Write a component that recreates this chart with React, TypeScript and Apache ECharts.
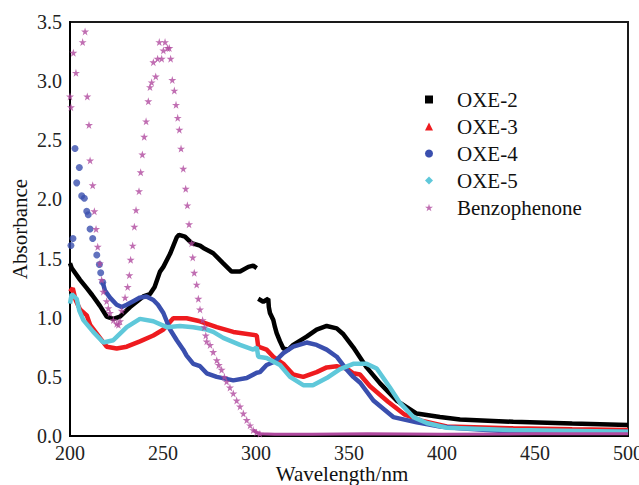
import React, { useEffect, useRef } from "react";
import * as echarts from "echarts";

// ---- Data (wavelength nm / absorbance) ----
const oxe2Wl = [200, 200.9, 205.4, 209.0, 212, 216.1, 219.7, 223.3, 226.9, 232.3, 239.4, 243.0, 245.5, 248.4, 250.2, 253.8, 257.4, 258.6, 261.8, 265.4, 269.9, 271.7, 275.3, 277.0, 282.4, 286.9, 291.4, 295.9, 298.5, 300.4, 300.8, 301.2, 303.9, 306.6, 306.9, 307.5, 309.3, 310.2, 311.1, 312.9, 314.7, 317.4, 320.0, 327.2, 332.6, 338.0, 343.4, 347, 352.3, 359.5, 366.7, 375.6, 386.4, 398.9, 409.7, 438.3, 470, 500];
const oxe2Abs = [1.46, 1.42, 1.32, 1.25, 1.19, 1.10, 1.01, 0.99, 1.01, 1.09, 1.18, 1.20, 1.26, 1.39, 1.43, 1.54, 1.68, 1.70, 1.685, 1.63, 1.61, 1.59, 1.56, 1.545, 1.46, 1.39, 1.39, 1.43, 1.44, 1.42, null, 1.16, 1.135, 1.16, 1.09, 1.04, 0.98, 0.92, 0.87, 0.80, 0.74, 0.73, 0.77, 0.84, 0.90, 0.93, 0.91, 0.86, 0.75, 0.58, 0.445, 0.30, 0.19, 0.16, 0.14, 0.12, 0.105, 0.093];

const oxe3Wl = [200, 201.5, 203, 205.4, 209.0, 210.8, 216.1, 219.7, 225.1, 230.5, 237.6, 244.8, 250.2, 255.5, 262.7, 269.9, 278.9, 287.8, 300.4, 301.2, 305.7, 309.3, 314.7, 320.0, 325.4, 332.6, 338.0, 343.4, 348.8, 352.3, 355.9, 361.3, 371, 380, 389, 402.5, 438.3, 470, 500];
const oxe3Abs = [1.22, 1.25, 1.15, 1.07, 1.02, 0.94, 0.83, 0.755, 0.74, 0.755, 0.80, 0.85, 0.90, 0.995, 0.995, 0.97, 0.92, 0.88, 0.85, 0.755, 0.73, 0.67, 0.61, 0.52, 0.50, 0.54, 0.58, 0.59, 0.57, 0.53, 0.52, 0.42, 0.29, 0.18, 0.13, 0.08, 0.065, 0.057, 0.05];

// OXE-4: sparse dots where the curve is steep, then continuous band
const oxe4DotWl = [200.5, 201.6, 202.7, 203.6, 205.0, 206.3, 207.7, 209.0, 209.8, 210.8, 212.2, 214.4, 215.8, 216.5, 217.6];
const oxe4DotAbs = [1.61, 1.67, 2.43, 2.14, 2.27, 2.03, 2.01, 1.90, 1.87, 1.75, 1.67, 1.53, 1.45, 1.38, 1.30];
const oxe4Wl = [217.6, 218.8, 221.5, 225.1, 227.8, 230.5, 234.0, 237.6, 241.1, 244.8, 247.3, 250.2, 252.0, 253.8, 257.4, 260.9, 262.7, 266.3, 269.9, 273.5, 278.9, 287.8, 295.0, 300.4, 302.1, 305.7, 310.2, 314.7, 320.0, 327.2, 332.6, 338.0, 343.4, 348.8, 352.3, 356, 363.1, 373.8, 386.4, 398.9, 409.7, 438.3, 500];
const oxe4Abs = [1.30, 1.23, 1.17, 1.11, 1.09, 1.11, 1.14, 1.17, 1.18, 1.15, 1.11, 1.04, 0.97, 0.90, 0.81, 0.73, 0.68, 0.61, 0.59, 0.53, 0.50, 0.47, 0.49, 0.535, 0.54, 0.60, 0.63, 0.70, 0.755, 0.79, 0.77, 0.73, 0.67, 0.56, 0.50, 0.45, 0.30, 0.16, 0.115, 0.08, 0.065, 0.036, 0.036];

const oxe5Wl = [200, 200.9, 203.6, 205, 207.2, 212.5, 217.9, 223.3, 230.5, 237.6, 244.8, 252.0, 259.1, 266.3, 273.5, 277.0, 282.4, 291.4, 298.5, 300.4, 301.2, 305.7, 312.9, 318.3, 325.4, 330.6, 338.0, 345.2, 352.3, 359.5, 364.9, 372.0, 377.4, 384.6, 391.8, 402.5, 438.3, 500];
const oxe5Abs = [1.12, 1.20, 1.16, 1.06, 0.98, 0.88, 0.79, 0.81, 0.92, 0.99, 0.97, 0.92, 0.93, 0.92, 0.90, 0.88, 0.83, 0.77, 0.73, 0.75, 0.67, 0.66, 0.60, 0.50, 0.43, 0.43, 0.49, 0.565, 0.61, 0.61, 0.57, 0.41, 0.28, 0.16, 0.11, 0.07, 0.05, 0.036];

const benzoWl = [200.0, 200.5, 201.8, 203.2, 206.8, 208.1, 209.3, 210.2, 210.8, 212.2, 213.1, 214.0, 214.9, 216.1, 217.0, 217.9, 219.7, 220.6, 221.5, 223.3, 225.1, 226.0, 226.9, 227.8, 229.6, 231.0, 231.9, 232.6, 233.7, 234.6, 235.5, 237.1, 238.0, 238.9, 239.9, 240.9, 242.1, 243.0, 243.9, 244.8, 246.1, 247.1, 248.0, 249.3, 250.2, 251.1, 252.5, 253.4, 254.1, 255.0, 256.1, 257.0, 257.9, 258.8, 259.7, 260.9, 262.2, 263.1, 264.0, 265.4, 266.0, 266.8, 268.1, 269.0, 269.9, 271.3, 272.2, 273.0, 273.5, 275.3, 277.0, 278.9, 280.0, 281.5, 283.0, 284.2, 286.0, 287.8, 289.6, 291.4, 293.2, 295.0, 296.8, 298.5, 300.3, 302.1];
const benzoAbs = [2.87, 2.78, 3.24, 3.07, 3.33, 3.42, 2.87, 2.63, 2.33, 2.12, 1.90, 1.75, 1.60, 1.46, 1.32, 1.22, 1.14, 1.08, 1.04, 0.98, 0.95, 0.94, 0.97, 1.06, 1.17, 1.26, 1.36, 1.49, 1.61, 1.77, 1.91, 2.07, 2.23, 2.38, 2.53, 2.66, 2.83, 2.95, 2.99, 3.16, 3.04, 3.19, 3.33, 3.19, 3.26, 3.33, 3.28, 3.28, 3.19, 3.01, 2.92, 2.80, 2.69, 2.59, 2.43, 2.26, 2.09, 1.95, 1.79, 1.63, 1.51, 1.38, 1.28, 1.16, 1.07, 0.98, 0.92, 0.85, 0.80, 0.77, 0.71, 0.64, 0.60, 0.56, 0.50, 0.46, 0.41, 0.36, 0.30, 0.25, 0.19, 0.135, 0.09, 0.05, 0.03, 0.02];
const benzoTailWl = [298.5, 300.3, 302.1, 310, 330, 360, 400, 450, 500];
const benzoTailAbs = [0.05, 0.03, 0.02, 0.015, 0.015, 0.018, 0.015, 0.018, 0.02];

const seriesNames = ["OXE-2", "OXE-3", "OXE-4", "OXE-5", "Benzophenone"];
const xTicks = { min: 200, max: 500, interval: 50 };
const yTicks = { min: 0, max: 3.5, interval: 0.5 };

const COLORS = {
  oxe2: "#000000",
  oxe3: "#ee1b1f",
  oxe4: "#3a4fae",
  oxe5: "#5fc8da",
  benzo: "#b04a9f",
};

const STAR = "path://M50,0 L61,35 L98,35 L68,57 L79,91 L50,70 L21,91 L32,57 L2,35 L39,35 Z";
const FONT = "'Liberation Serif', 'Times New Roman', serif";

const zip = (xs: number[], ys: (number | null)[]) =>
  xs.map((x, i) => (ys[i] === null ? [x, "-"] : [x, ys[i]]));

export default function App() {
  const ref = useRef<HTMLDivElement>(null);

  useEffect(() => {
    if (!ref.current) return;
    const chart = echarts.init(ref.current, undefined, { renderer: "svg" });
    const lineBase = (name: string, color: string, data: any[]) => ({
      name,
      type: "line",
      data,
      symbol: "none",
      showSymbol: false,
      connectNulls: false,
      lineStyle: { color, width: 4.5 },
      itemStyle: { color },
      z: 2,
    });
    chart.setOption({
      animation: false,
      backgroundColor: "#ffffff",
      grid: {
        left: 70,
        right: 11,
        top: 22,
        bottom: 49,
        show: true,
        borderColor: "#1a1a1a",
        borderWidth: 2,
        containLabel: false,
        outerBoundsMode: "none",
      },
      legend: {
        orient: "vertical",
        left: 420,
        top: 84,
        itemWidth: 8,
        itemHeight: 8,
        itemGap: 6,
        selectedMode: false,
        textStyle: {
          fontFamily: FONT,
          fontSize: 21,
          lineHeight: 21,
          color: "#111",
          padding: [0, 0, 0, 19],
        },
        data: [
          { name: seriesNames[0], icon: "rect", itemStyle: { color: COLORS.oxe2 } },
          { name: seriesNames[1], icon: "triangle", itemStyle: { color: COLORS.oxe3 } },
          { name: seriesNames[2], icon: "circle", itemStyle: { color: COLORS.oxe4 } },
          { name: seriesNames[3], icon: "diamond", itemStyle: { color: COLORS.oxe5 } },
          { name: seriesNames[4], icon: STAR, itemStyle: { color: COLORS.benzo } },
        ],
      },
      xAxis: {
        type: "value",
        min: xTicks.min,
        max: xTicks.max,
        interval: xTicks.interval,
        name: "Wavelength/nm",
        nameLocation: "middle",
        nameGap: 27,
        nameMoveOverlap: false,
        nameTextStyle: {
          fontFamily: FONT,
          fontSize: 21,
          lineHeight: 21,
          color: "#111",
          padding: [0, 14, 0, 0],
        },
        axisLine: { show: true, lineStyle: { color: "#000", width: 2 } },
        axisTick: { show: false },
        splitLine: { show: false },
        axisLabel: { fontFamily: FONT, fontSize: 20, color: "#222", margin: 7 },
      },
      yAxis: {
        type: "value",
        min: yTicks.min,
        max: yTicks.max,
        interval: yTicks.interval,
        name: "Absorbance",
        nameLocation: "middle",
        nameGap: 40,
        nameMoveOverlap: false,
        nameTextStyle: { fontFamily: FONT, fontSize: 21, color: "#111" },
        axisLine: { show: true, lineStyle: { color: "#000", width: 2 } },
        axisTick: { show: false },
        splitLine: { show: false },
        axisLabel: {
          fontFamily: FONT,
          fontSize: 20,
          color: "#222",
          margin: 8,
          formatter: (v: number) => v.toFixed(1),
        },
      },
      series: [
        lineBase(seriesNames[0], COLORS.oxe2, zip(oxe2Wl, oxe2Abs)),
        lineBase(seriesNames[1], COLORS.oxe3, zip(oxe3Wl, oxe3Abs)),
        lineBase(seriesNames[2], COLORS.oxe4, zip(oxe4Wl, oxe4Abs)),
        {
          name: seriesNames[2],
          type: "scatter",
          data: zip(oxe4DotWl, oxe4DotAbs),
          symbol: "circle",
          symbolSize: 7,
          itemStyle: { color: COLORS.oxe4 },
          z: 2,
        },
        lineBase(seriesNames[3], COLORS.oxe5, zip(oxe5Wl, oxe5Abs)),
        {
          name: seriesNames[4],
          type: "scatter",
          data: zip(benzoWl, benzoAbs),
          symbol: STAR,
          symbolSize: 8,
          itemStyle: { color: COLORS.benzo },
          z: 3,
        },
        {
          name: seriesNames[4],
          type: "line",
          data: zip(benzoTailWl, benzoTailAbs),
          symbol: "none",
          showSymbol: false,
          lineStyle: { color: COLORS.benzo, width: 3 },
          itemStyle: { color: COLORS.benzo },
          z: 3,
        },
      ],
    });
    return () => chart.dispose();
  }, []);

  return (
    <div
      ref={ref}
      style={{ position: "fixed", left: 0, top: 0, width: 639, height: 485, background: "#fff" }}
    />
  );
}
